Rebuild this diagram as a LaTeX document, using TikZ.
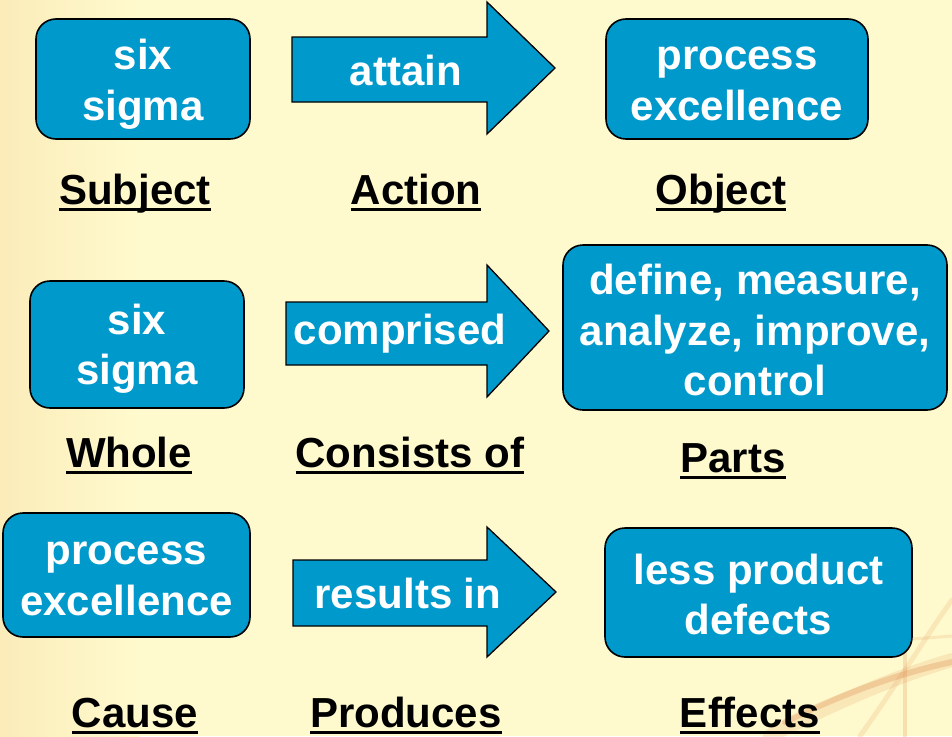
\documentclass[tikz,border=0pt]{standalone}
\usepackage{fontspec}
\setmainfont{Liberation Sans}
\definecolor{boxblue}{RGB}{0,153,204}
\definecolor{bgyellow}{RGB}{255,250,205}
\definecolor{bgwarm}{RGB}{251,236,186}
\definecolor{swirl}{RGB}{226,150,90}
\newcommand{\ulab}[1]{\setbox0=\hbox{#1}\rlap{\vrule height -4pt depth 7pt width \wd0}\box0}
\begin{document}
\begin{tikzpicture}[
  x=1pt, y=-1pt,
  box/.style={draw=black, line width=1.6pt, fill=boxblue, rounded corners=20pt, inner sep=0pt},
  boxtext/.style={text=white, font=\bfseries\fontsize{42}{50.5}\selectfont, align=center, inner sep=0pt},
  arrowtext/.style={text=white, font=\bfseries\fontsize{42}{50.5}\selectfont, inner sep=0pt},
  lbl/.style={text=black, font=\bfseries\fontsize{42}{50}\selectfont, inner sep=0pt, anchor=base},
  blockarrow/.style={draw=black, line width=1.3pt, fill=boxblue, line join=miter},
  swirlline/.style={draw=swirl, line cap=round}
]
\useasboundingbox (0,0) rectangle (952,736);
% background
\fill[bgyellow] (0,0) rectangle (952,736);
\shade[left color=bgwarm, right color=bgyellow] (0,0) rectangle (140,736);
% faint decorative swirl bottom right
\draw[swirlline, line width=14pt, opacity=0.18] (770,736) .. controls (840,700) and (900,675) .. (952,660);
\draw[swirlline, line width=6pt, opacity=0.35] (785,722) .. controls (850,690) and (905,672) .. (952,662);
\draw[swirlline, line width=4pt, opacity=0.25] (905,630) -- (905,736);
\draw[swirlline, line width=5pt, opacity=0.18] (860,736) .. controls (900,680) and (930,630) .. (952,600);
\draw[swirlline, line width=3pt, opacity=0.18] (900,640) .. controls (925,638) and (940,637) .. (952,636);

% ---------- Row 1 ----------
\node[box, minimum width=214pt, minimum height=120pt] (s1) at (143,79) {};
\node[boxtext] (s1t) at ([yshift=-5pt]s1.center) {six\\sigma};
\draw[blockarrow] (292,37) -- (487,37) -- (487,2) -- (555,68) -- (487,134) -- (487,102) -- (292,102) -- cycle;
\node[arrowtext] (a1) at (406,70) {attain};
\node[box, minimum width=262pt, minimum height=120pt] (o1) at (737,79) {};
\node[boxtext] (o1t) at ([yshift=-5pt]o1.center) {process\\excellence};
\node[lbl] (l11) at (135,204) {\ulab{Subject}};
\node[lbl] (l12) at (416,204) {\ulab{Action}};
\node[lbl] (l13) at (721,204) {\ulab{Object}};

% ---------- Row 2 ----------
\node[box, minimum width=214pt, minimum height=127pt] (s2) at (137,344.5) {};
\node[boxtext] (s2t) at ([yshift=-4pt]s2.center) {six\\sigma};
\draw[blockarrow] (286,302) -- (487,302) -- (487,265) -- (549,331) -- (487,397) -- (487,365) -- (286,365) -- cycle;
\node[arrowtext] (a2) at (400,334) {comprised};
\node[box, minimum width=384pt, minimum height=165pt] (o2) at (755,327.5) {};
\node[boxtext] (o2t) at ([yshift=-2.5pt]o2.center) {define, measure,\\analyze, improve,\\control};
\node[lbl] (l21) at (129,467) {\ulab{Whole}};
\node[lbl] (l22) at (410,467) {\ulab{Consists of}};
\node[lbl] (l23) at (733,472) {\ulab{Parts}};

% ---------- Row 3 ----------
\node[box, minimum width=247pt, minimum height=124pt] (s3) at (126.5,575) {};
\node[boxtext] (s3t) at ([yshift=-4pt]s3.center) {process\\excellence};
\draw[blockarrow] (293,560) -- (487,560) -- (487,527) -- (556,592) -- (487,657) -- (487,626) -- (293,626) -- cycle;
\node[arrowtext] (a3) at (408,593) {results in};
\node[box, minimum width=307pt, minimum height=129pt] (o3) at (758.5,592.5) {};
\node[boxtext] (o3t) at ([yshift=-2pt]o3.center) {less product\\defects};
\node[lbl] (l31) at (135,727) {\ulab{Cause}};
\node[lbl] (l32) at (406,727) {\ulab{Produces}};
\node[lbl] (l33) at (750,727) {\ulab{Effects}};
\end{tikzpicture}
\end{document}
